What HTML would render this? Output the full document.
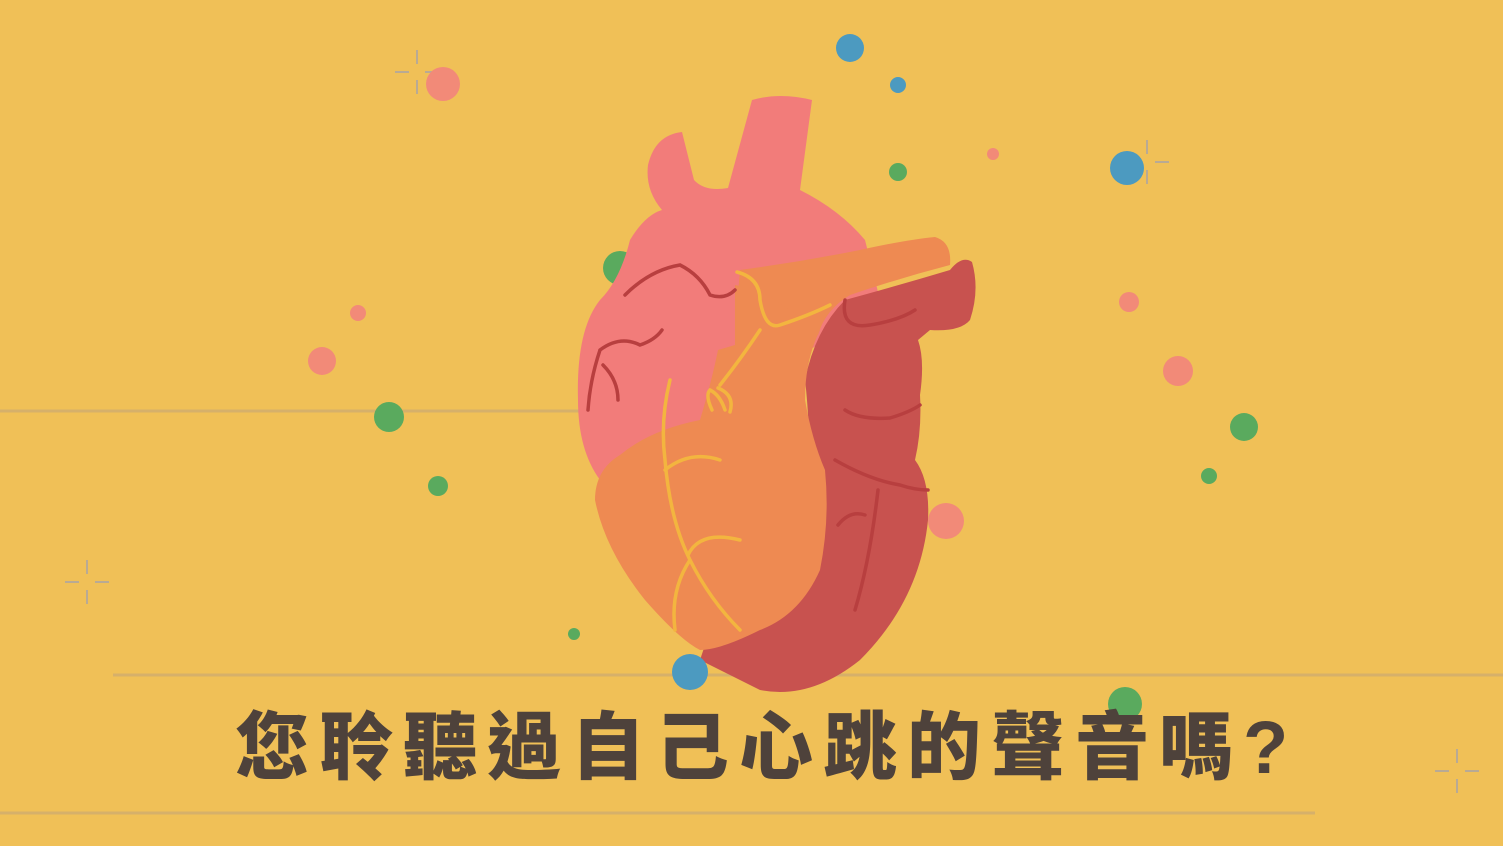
<!DOCTYPE html>
<html><head><meta charset="utf-8"><style>
html,body{margin:0;padding:0}
body{width:1503px;height:846px;background:#F0C057;overflow:hidden;position:relative;font-family:"Liberation Sans","Noto Sans CJK TC",sans-serif}
svg{position:absolute;left:0;top:0}
#title{position:absolute;left:235px;top:688px;font-size:74px;font-weight:900;color:#4E423B;letter-spacing:10px;white-space:nowrap;font-family:"Liberation Sans","Noto Sans CJK TC",sans-serif}
</style></head><body>
<svg width="1503" height="846">
 <g stroke="#D6B06A" stroke-width="3">
  <line x1="0" y1="411" x2="580" y2="411"/>
  <line x1="113" y1="675" x2="1503" y2="675"/>
  <line x1="0" y1="813" x2="1315" y2="813"/>
 </g>
 <g stroke="#B9AA94" stroke-width="2">
  <path d="M417 50v14M417 80v14M395 72h14M425 72h14"/>
  <path d="M1147 140v14M1147 170v14M1125 162h14M1155 162h14"/>
  <path d="M87 560v14M87 590v14M65 582h14M95 582h14"/>
  <path d="M1457 749v14M1457 779v14M1435 771h14M1465 771h14"/>
 </g>
 <g>
  <circle cx="850" cy="48" r="14" fill="#4C9AC0"/><circle cx="898" cy="85" r="8" fill="#4C9AC0"/>
  <circle cx="443" cy="84" r="17" fill="#F28A78"/><circle cx="898" cy="172" r="9" fill="#5AAA5E"/>
  <circle cx="993" cy="154" r="6" fill="#F28A78"/><circle cx="1127" cy="168" r="17" fill="#4C9AC0"/>
  <circle cx="620" cy="268" r="17" fill="#5AAA5E"/><circle cx="358" cy="313" r="8" fill="#F28A78"/>
  <circle cx="322" cy="361" r="14" fill="#F28A78"/><circle cx="389" cy="417" r="15" fill="#5AAA5E"/>
  <circle cx="438" cy="486" r="10" fill="#5AAA5E"/><circle cx="1129" cy="302" r="10" fill="#F28A78"/>
  <circle cx="1178" cy="371" r="15" fill="#F28A78"/><circle cx="1244" cy="427" r="14" fill="#5AAA5E"/>
  <circle cx="1209" cy="476" r="8" fill="#5AAA5E"/><circle cx="946" cy="521" r="18" fill="#F28A78"/>
  <circle cx="574" cy="634" r="6" fill="#5AAA5E"/>
 </g>
 <g>
  <path fill="#F27C7A" d="M752 100 Q780 92 812 100 L800 190 Q840 210 865 240 L880 300 L740 400 L600 480 Q578 450 578 400 Q576 330 600 300 Q620 280 630 240 Q645 215 662 210 Q645 190 648 165 Q655 135 682 132 L694 180 Q705 192 728 188 Z"/>
  <path fill="#C8524F" d="M845 300 Q900 285 950 270 Q962 255 972 262 Q980 290 970 320 Q960 332 930 330 L918 340 Q925 360 920 395 Q922 430 915 460 Q930 480 928 520 Q920 600 860 660 Q810 700 760 690 L700 660 L720 600 L810 500 Q810 420 805 380 Q815 330 845 300 Z"/>
  <path fill="#EE8A52" d="M740 270 Q800 262 860 250 Q905 240 935 237 Q952 242 950 265 Q900 278 850 295 Q825 310 818 335 L760 350 L735 330 Z"/>
  <path fill="#EE8A52" d="M735 285 L760 290 L820 330 Q805 360 805 400 Q812 440 825 470 Q830 520 820 570 Q800 615 760 630 Q720 650 700 650 Q680 640 645 600 Q605 550 595 500 Q595 470 620 455 Q650 430 700 420 Q712 380 718 350 L735 345 Z"/>
  <g fill="none" stroke="#F3B53F" stroke-width="3.5" stroke-linecap="round">
   <path d="M737 272 Q760 278 760 300 Q765 330 780 325 Q810 315 830 305"/>
   <path d="M760 330 Q740 360 720 385 M712 410 Q705 395 710 390 Q720 395 725 410 M718 388 Q735 395 730 412"/>
   <path d="M670 380 Q660 420 665 460 Q670 520 690 560 Q710 600 740 630 M665 470 Q690 450 720 460 M688 555 Q700 530 740 540 M690 560 Q670 590 675 630"/>
  </g>
  <g fill="none" stroke="#B83F3F" stroke-width="3.5" stroke-linecap="round">
   <path d="M625 295 Q650 270 680 265 Q700 275 710 295 Q725 300 735 290"/>
   <path d="M600 350 Q620 335 640 345 Q655 340 662 330 M600 350 Q590 380 588 410 M603 365 Q618 380 618 400"/>
   <path d="M845 300 Q840 330 870 325 Q900 320 915 310"/>
   <path d="M845 410 Q860 420 890 418 Q910 412 920 405"/>
   <path d="M835 460 Q870 480 900 485 Q915 490 928 490 M878 490 Q870 560 855 610 M838 525 Q850 510 865 515"/>
  </g>
 </g>
 <circle cx="690" cy="672" r="18" fill="#4C9AC0"/>
 <circle cx="1125" cy="704" r="17" fill="#5AAA5E"/>
</svg>
<div id="title">您聆聽過自己心跳的聲音嗎?</div>
</body></html>
